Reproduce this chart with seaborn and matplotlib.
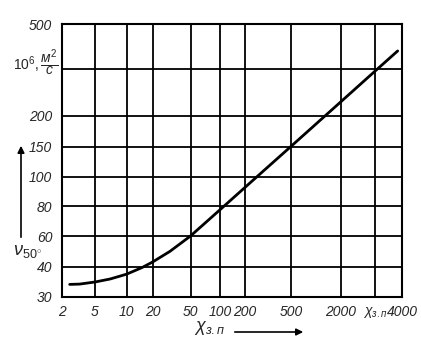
import matplotlib
matplotlib.use("Agg")
import matplotlib.pyplot as plt
import seaborn as sns
import pandas as pd
import numpy as np

sns.set_style("white")
plt.rcParams['font.family'] = ['Liberation Sans', 'DejaVu Sans']
plt.rcParams['mathtext.fontset'] = 'custom'
plt.rcParams['mathtext.rm'] = 'Liberation Sans'
plt.rcParams['mathtext.it'] = 'Liberation Sans:italic'

# grid values of the chart (non-uniform scales)
x_ticks = [2, 5, 10, 20, 50, 100, 200, 500, 2000, 3000, 4000]
x_labels = ["2", "5", "10", "20", "50", "100", "200", "500", "2000", r"$\chi_{з.п}$", "4000"]
y_ticks = [30, 40, 60, 80, 100, 150, 200, 300, 500]
y_labels = ["30", "40", "60", "80", "100", "150", "200", "", "500"]

# curve
chi = [2.7, 3.6, 5, 7.4, 10, 15.9, 20, 33.7, 50, 74.6, 100, 200, 500, 2000, 3000, 3830]
nu = [34.1, 34.2, 34.9, 35.9, 37.5, 39.7, 43.1, 50.0, 60, 68.6, 77.5, 92.4, 151, 230, 296, 381]

# where the grid lines sit on the printed sheet
x_pos = [62, 95, 126.5, 152.7, 190.5, 220, 244.5, 291, 341, 375, 402.3]
y_pos = [0, 30, 60.7, 90.7, 120, 149.7, 181.2, 227.4, 272.7]

def fx(v):
    return np.interp(v, x_ticks, x_pos)

def ifx(p):
    return np.interp(p, x_pos, x_ticks)

def fy(v):
    return np.interp(v, y_ticks, y_pos)

def ify(p):
    return np.interp(p, y_pos, y_ticks)

df = pd.DataFrame({"chi": chi, "nu": nu})

fig = plt.figure(figsize=(4.21, 3.64), dpi=100)
ax = fig.add_axes([62 / 421, 1 - 296.7 / 364, (402.3 - 62) / 421, (296.7 - 24) / 364])
ax.set_xscale("function", functions=(fx, ifx))
ax.set_yscale("function", functions=(fy, ify))

sns.lineplot(data=df, x="chi", y="nu", ax=ax, color="black", lw=2.0)

ax.set_xlim(2, 4000)
ax.set_ylim(30, 500)
ax.set_xticks(x_ticks)
ax.set_xticklabels(x_labels, fontsize=10, style="italic")
ax.set_yticks(y_ticks)
ax.set_yticklabels(y_labels, fontsize=10, style="italic")
ax.xaxis.set_minor_locator(matplotlib.ticker.NullLocator())
ax.yaxis.set_minor_locator(matplotlib.ticker.NullLocator())
ax.tick_params(axis="y", length=0, pad=7)
ax.tick_params(axis="x", length=0, pad=6)
ax.grid(True, color="black", lw=1.3)
for s in ax.spines.values():
    s.set_color("black")
    s.set_linewidth(1.5)
ax.set_xlabel("")
ax.set_ylabel("")

# unit next to the unlabeled grid line
fig.text(36 / 421, 1 - 63 / 364, r"$10^6,\dfrac{м^2}{с}$", fontsize=10,
         ha="center", va="center")
# axis names with arrows
fig.text(28 / 421, 1 - 252 / 364, r"$\nu_{50^{\circ}}$", fontsize=13,
         ha="center", va="center")
ax.annotate("", xy=(21 / 421, 1 - 143 / 364), xytext=(21 / 421, 1 - 240 / 364),
            xycoords="figure fraction",
            arrowprops=dict(arrowstyle="-|>", color="black", lw=1.2))
fig.text(210 / 421, 1 - 328 / 364, r"$\chi_{з.п}$", fontsize=13,
         ha="center", va="center")
ax.annotate("", xy=(306 / 421, 1 - 332 / 364), xytext=(232 / 421, 1 - 332 / 364),
            xycoords="figure fraction",
            arrowprops=dict(arrowstyle="-|>", color="black", lw=1.2))

fig.savefig("out.png", dpi=100)
